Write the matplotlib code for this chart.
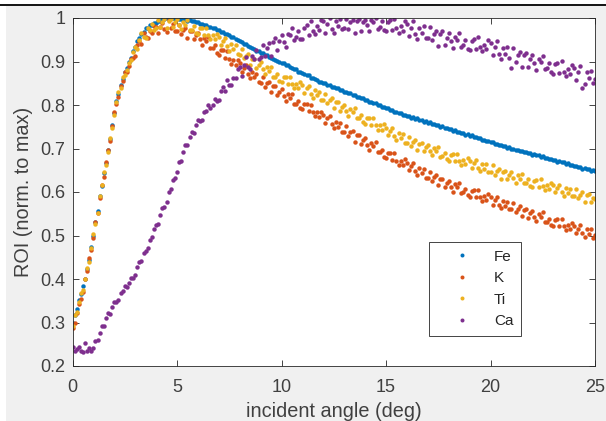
import numpy as np
import matplotlib.pyplot as plt
from matplotlib.patches import Rectangle
from matplotlib.lines import Line2D

plt.rcParams['font.family'] = ['Liberation Sans', 'DejaVu Sans']

# incident angle grid (deg), 0.1 step
angle = np.round(np.arange(251) * 0.1, 1)

# ROI values normalised to max, one row per degree
fe = [
    0.300, 0.318, 0.331, 0.352, 0.366, 0.385, 0.399, 0.424, 0.444, 0.473,
    0.500, 0.531, 0.557, 0.590, 0.614, 0.644, 0.667, 0.697, 0.722, 0.755,
    0.781, 0.810, 0.826, 0.847, 0.859, 0.875, 0.885, 0.899, 0.909, 0.924,
    0.933, 0.947, 0.954, 0.964, 0.968, 0.976, 0.977, 0.983, 0.983, 0.988,
    0.989, 0.993, 0.993, 0.997, 0.997, 0.999, 1.000, 0.999, 1.000, 0.998,
    0.999, 0.997, 0.998, 0.996, 0.997, 0.994, 0.995, 0.992, 0.993, 0.990,
    0.990, 0.987, 0.987, 0.983, 0.984, 0.980, 0.980, 0.976, 0.976, 0.972,
    0.972, 0.968, 0.968, 0.964, 0.963, 0.961, 0.956, 0.956, 0.951, 0.950,
    0.946, 0.945, 0.940, 0.940, 0.935, 0.934, 0.930, 0.929, 0.924, 0.924,
    0.920, 0.919, 0.914, 0.914, 0.910, 0.909, 0.905, 0.903, 0.901, 0.900,
    0.896, 0.896, 0.891, 0.891, 0.887, 0.886, 0.882, 0.882, 0.877, 0.877,
    0.873, 0.872, 0.868, 0.868, 0.863, 0.863, 0.859, 0.858, 0.854, 0.854,
    0.850, 0.850, 0.846, 0.846, 0.842, 0.842, 0.839, 0.839, 0.835, 0.835,
    0.831, 0.831, 0.827, 0.827, 0.823, 0.823, 0.819, 0.819, 0.815, 0.816,
    0.812, 0.812, 0.808, 0.808, 0.804, 0.804, 0.800, 0.800, 0.796, 0.796,
    0.792, 0.792, 0.789, 0.789, 0.785, 0.785, 0.781, 0.781, 0.777, 0.778,
    0.774, 0.775, 0.771, 0.772, 0.768, 0.769, 0.765, 0.766, 0.762, 0.763,
    0.759, 0.760, 0.756, 0.757, 0.753, 0.754, 0.750, 0.751, 0.747, 0.748,
    0.744, 0.745, 0.741, 0.742, 0.738, 0.739, 0.735, 0.736, 0.732, 0.733,
    0.729, 0.730, 0.726, 0.727, 0.723, 0.723, 0.720, 0.720, 0.717, 0.717,
    0.714, 0.714, 0.711, 0.711, 0.708, 0.708, 0.705, 0.706, 0.702, 0.703,
    0.699, 0.700, 0.697, 0.697, 0.694, 0.695, 0.691, 0.692, 0.689, 0.689,
    0.686, 0.687, 0.684, 0.684, 0.681, 0.682, 0.678, 0.679, 0.676, 0.676,
    0.673, 0.674, 0.670, 0.671, 0.668, 0.668, 0.665, 0.666, 0.662, 0.663,
    0.660, 0.660, 0.657, 0.658, 0.654, 0.655, 0.652, 0.653, 0.649, 0.650,
    0.648]

k = [
    0.288, 0.298, 0.322, 0.343, 0.353, 0.370, 0.400, 0.419, 0.449, 0.467,
    0.495, 0.531, 0.552, 0.586, 0.617, 0.634, 0.669, 0.697, 0.717, 0.751,
    0.783, 0.803, 0.818, 0.844, 0.856, 0.875, 0.877, 0.890, 0.905, 0.909,
    0.913, 0.937, 0.948, 0.941, 0.965, 0.956, 0.953, 0.969, 0.965, 0.982,
    0.979, 0.966, 0.979, 0.989, 0.974, 0.967, 0.995, 0.976, 0.987, 0.969,
    0.970, 0.984, 0.964, 0.972, 0.977, 0.954, 0.969, 0.970, 0.951, 0.960,
    0.966, 0.951, 0.939, 0.955, 0.947, 0.956, 0.932, 0.931, 0.937, 0.920,
    0.916, 0.927, 0.926, 0.909, 0.923, 0.905, 0.895, 0.903, 0.893, 0.904,
    0.896, 0.877, 0.886, 0.891, 0.872, 0.861, 0.877, 0.864, 0.872, 0.852,
    0.851, 0.864, 0.842, 0.850, 0.854, 0.829, 0.843, 0.843, 0.823, 0.831,
    0.836, 0.821, 0.810, 0.825, 0.817, 0.826, 0.803, 0.803, 0.809, 0.794,
    0.790, 0.802, 0.802, 0.786, 0.801, 0.784, 0.774, 0.783, 0.773, 0.785,
    0.777, 0.759, 0.769, 0.775, 0.756, 0.746, 0.762, 0.749, 0.758, 0.739,
    0.738, 0.751, 0.729, 0.737, 0.741, 0.716, 0.730, 0.730, 0.711, 0.719,
    0.724, 0.709, 0.697, 0.713, 0.705, 0.714, 0.691, 0.691, 0.697, 0.681,
    0.678, 0.690, 0.690, 0.674, 0.689, 0.672, 0.663, 0.672, 0.662, 0.675,
    0.667, 0.650, 0.659, 0.666, 0.648, 0.639, 0.655, 0.643, 0.653, 0.633,
    0.633, 0.647, 0.626, 0.634, 0.639, 0.615, 0.629, 0.630, 0.611, 0.620,
    0.626, 0.612, 0.601, 0.618, 0.611, 0.621, 0.598, 0.599, 0.607, 0.592,
    0.589, 0.602, 0.604, 0.588, 0.604, 0.589, 0.580, 0.590, 0.581, 0.595,
    0.588, 0.571, 0.582, 0.589, 0.571, 0.563, 0.580, 0.568, 0.578, 0.560,
    0.560, 0.574, 0.554, 0.562, 0.567, 0.544, 0.559, 0.560, 0.541, 0.551,
    0.557, 0.543, 0.533, 0.549, 0.543, 0.553, 0.530, 0.532, 0.539, 0.525,
    0.522, 0.535, 0.537, 0.521, 0.538, 0.522, 0.513, 0.524, 0.515, 0.529,
    0.522, 0.505, 0.516, 0.523, 0.506, 0.497, 0.515, 0.503, 0.514, 0.495,
    0.501]

ti = [
    0.293, 0.317, 0.325, 0.347, 0.367, 0.374, 0.401, 0.425, 0.440, 0.471,
    0.503, 0.527, 0.552, 0.590, 0.615, 0.647, 0.663, 0.692, 0.724, 0.748,
    0.776, 0.808, 0.830, 0.840, 0.864, 0.870, 0.880, 0.896, 0.904, 0.922,
    0.934, 0.929, 0.950, 0.966, 0.956, 0.955, 0.978, 0.972, 0.987, 0.973,
    0.978, 0.996, 0.979, 0.990, 0.998, 0.977, 0.994, 0.997, 0.979, 0.990,
    0.997, 0.984, 0.974, 0.991, 0.984, 0.995, 0.972, 0.973, 0.981, 0.966,
    0.963, 0.976, 0.977, 0.961, 0.976, 0.960, 0.951, 0.960, 0.951, 0.963,
    0.956, 0.938, 0.947, 0.953, 0.935, 0.925, 0.941, 0.928, 0.937, 0.917,
    0.916, 0.929, 0.907, 0.913, 0.917, 0.892, 0.906, 0.906, 0.885, 0.893,
    0.898, 0.883, 0.871, 0.887, 0.879, 0.888, 0.864, 0.865, 0.871, 0.856,
    0.852, 0.865, 0.865, 0.849, 0.865, 0.849, 0.839, 0.849, 0.840, 0.852,
    0.845, 0.828, 0.838, 0.844, 0.826, 0.817, 0.834, 0.822, 0.831, 0.812,
    0.812, 0.826, 0.804, 0.812, 0.816, 0.792, 0.806, 0.807, 0.787, 0.796,
    0.801, 0.787, 0.775, 0.791, 0.783, 0.793, 0.769, 0.770, 0.776, 0.761,
    0.757, 0.770, 0.770, 0.754, 0.769, 0.753, 0.743, 0.753, 0.743, 0.756,
    0.748, 0.731, 0.740, 0.747, 0.728, 0.719, 0.736, 0.723, 0.733, 0.713,
    0.713, 0.727, 0.706, 0.715, 0.720, 0.696, 0.711, 0.712, 0.694, 0.703,
    0.709, 0.695, 0.684, 0.701, 0.694, 0.704, 0.681, 0.682, 0.690, 0.675,
    0.672, 0.685, 0.687, 0.671, 0.688, 0.672, 0.663, 0.674, 0.665, 0.679,
    0.672, 0.656, 0.666, 0.674, 0.656, 0.648, 0.665, 0.654, 0.664, 0.646,
    0.646, 0.661, 0.640, 0.649, 0.654, 0.631, 0.646, 0.648, 0.629, 0.639,
    0.645, 0.632, 0.621, 0.638, 0.631, 0.642, 0.620, 0.621, 0.629, 0.614,
    0.612, 0.626, 0.627, 0.612, 0.629, 0.613, 0.605, 0.616, 0.607, 0.621,
    0.615, 0.599, 0.609, 0.617, 0.600, 0.591, 0.609, 0.598, 0.608, 0.590,
    0.591, 0.606, 0.586, 0.594, 0.600, 0.577, 0.593, 0.595, 0.576, 0.586,
    0.584]

ca = [
    0.244, 0.235, 0.238, 0.244, 0.235, 0.232, 0.252, 0.235, 0.242, 0.235,
    0.241, 0.258, 0.260, 0.277, 0.292, 0.293, 0.310, 0.321, 0.320, 0.335,
    0.347, 0.348, 0.351, 0.367, 0.372, 0.384, 0.381, 0.390, 0.402, 0.402,
    0.410, 0.427, 0.438, 0.441, 0.460, 0.464, 0.472, 0.489, 0.496, 0.514,
    0.524, 0.527, 0.546, 0.563, 0.566, 0.576, 0.600, 0.608, 0.628, 0.632,
    0.646, 0.669, 0.671, 0.691, 0.707, 0.707, 0.727, 0.739, 0.735, 0.753,
    0.766, 0.763, 0.765, 0.783, 0.787, 0.800, 0.792, 0.800, 0.813, 0.809,
    0.811, 0.833, 0.841, 0.832, 0.857, 0.847, 0.846, 0.863, 0.862, 0.883,
    0.888, 0.866, 0.891, 0.910, 0.887, 0.882, 0.913, 0.905, 0.927, 0.905,
    0.911, 0.939, 0.913, 0.932, 0.943, 0.913, 0.944, 0.953, 0.926, 0.947,
    0.962, 0.945, 0.934, 0.963, 0.960, 0.978, 0.950, 0.956, 0.971, 0.952,
    0.952, 0.976, 0.983, 0.962, 0.993, 0.971, 0.963, 0.981, 0.972, 0.996,
    0.992, 0.966, 0.987, 0.999, 0.975, 0.966, 0.994, 0.982, 0.998, 0.975,
    0.978, 0.997, 0.974, 0.990, 0.996, 0.966, 0.994, 0.998, 0.971, 0.990,
    0.996, 0.983, 0.969, 0.996, 0.990, 1.000, 0.975, 0.980, 0.992, 0.972,
    0.969, 0.991, 0.995, 0.972, 0.998, 0.976, 0.966, 0.982, 0.971, 0.993,
    0.987, 0.959, 0.978, 0.992, 0.963, 0.952, 0.978, 0.965, 0.982, 0.954,
    0.955, 0.979, 0.949, 0.964, 0.970, 0.936, 0.963, 0.969, 0.938, 0.955,
    0.966, 0.946, 0.931, 0.957, 0.950, 0.965, 0.934, 0.938, 0.950, 0.929,
    0.926, 0.948, 0.952, 0.929, 0.957, 0.933, 0.923, 0.939, 0.928, 0.949,
    0.943, 0.915, 0.933, 0.947, 0.917, 0.906, 0.931, 0.918, 0.934, 0.907,
    0.885, 0.931, 0.900, 0.915, 0.921, 0.887, 0.914, 0.919, 0.888, 0.905,
    0.916, 0.896, 0.880, 0.906, 0.898, 0.913, 0.882, 0.885, 0.897, 0.875,
    0.872, 0.894, 0.897, 0.874, 0.901, 0.877, 0.867, 0.882, 0.871, 0.892,
    0.886, 0.858, 0.876, 0.890, 0.838, 0.849, 0.875, 0.861, 0.878, 0.850,
    0.860]

series = [('Fe', fe, '#0072BD'), ('K', k, '#D95319'),
          ('Ti', ti, '#EDB120'), ('Ca', ca, '#7E2F8E')]

fig = plt.figure(figsize=(6.06, 4.21), dpi=100, facecolor='white')
# grey matlab figure background + window edge line
fig.patches.append(Rectangle((6 / 606, 0), 600 / 606, (421 - 6) / 421,
                             transform=fig.transFigure, facecolor='#f0f0f0',
                             edgecolor='none', zorder=-10))
fig.lines.append(Line2D([0, 1], [(421 - 5) / 421] * 2, transform=fig.transFigure,
                        color='black', lw=1.3))

ax = fig.add_axes([72.5 / 606, (421 - 366) / 421, 522.5 / 606, 348 / 421])
ax.set_facecolor('white')

for name, vals, col in series:
    ax.plot(angle, vals, linestyle='none', marker='o', ms=3.2, mew=0,
            color=col, label=name)

ax.set_xlim(0, 25)
ax.set_ylim(0.2, 1)
ax.set_xticks([0, 5, 10, 15, 20, 25])
ax.set_yticks([0.2, 0.3, 0.4, 0.5, 0.6, 0.7, 0.8, 0.9, 1.0])
ax.set_yticklabels(['0.2', '0.3', '0.4', '0.5', '0.6', '0.7', '0.8', '0.9', '1'])
ax.tick_params(direction='in', top=True, right=True, length=4, width=0.6,
               colors='#262626', labelcolor='#404040', labelsize=13)
ax.tick_params(axis='x', pad=9)
ax.tick_params(axis='y', pad=5)
for sp in ax.spines.values():
    sp.set_color('#262626')
    sp.set_linewidth(0.6)

ax.set_xlabel('incident angle (deg)', fontsize=14.3, color='#404040', labelpad=5)
ax.set_ylabel('ROI (norm. to max)', fontsize=14.3, color='#404040', labelpad=5)

leg = ax.legend(loc='lower left', bbox_to_anchor=(0.682, 0.086), fontsize=11,
                frameon=True, fancybox=False, edgecolor='#262626', framealpha=1,
                borderpad=0.5, labelspacing=0.5, handlelength=3.3,
                handletextpad=0.45, borderaxespad=0, markerscale=0.9)
leg.get_frame().set_linewidth(0.6)
for t in leg.get_texts():
    t.set_color('#262626')

fig.savefig('out.png', dpi=100, facecolor=fig.get_facecolor())
